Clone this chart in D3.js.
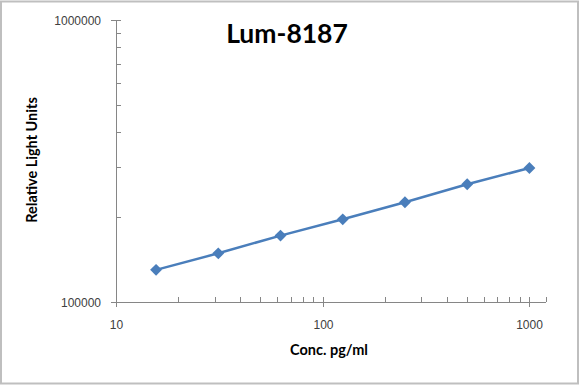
<!DOCTYPE html>
<html><head><meta charset="utf-8">
<script src="https://cdn.jsdelivr.net/npm/d3@7"></script>
<style>body{margin:0;background:#fff}svg{display:block}</style>
</head><body>
<svg id="c" width="580" height="386"></svg>
<script>
const title = "Lum-8187";
const xLabel = "Conc. pg/ml";
const yLabel = "Relative Light Units";
const conc = [15.625, 31.25, 62.5, 125, 250, 500, 1000];
const rlu = [130000, 148800, 172000, 196400, 225700, 261500, 298700];
const xTicks = [10, 100, 1000];
const yTicks = [100000, 1000000];

const svg = d3.select("#c");
svg.append("rect").attr("x",1).attr("y",1.5).attr("width",577).attr("height",382)
  .attr("fill","#fff").attr("stroke","#bfbfbf").attr("stroke-width",2);

const x = d3.scaleLog().domain([10, 1203]).range([116, 546]);
const y = d3.scaleLog().domain([100000, 1000000]).range([302, 20]);
const axisCol = "#868686";
const g = svg.append("g");

g.append("line").attr("x1",116.5).attr("x2",116.5).attr("y1",20).attr("y2",302).attr("stroke",axisCol).attr("stroke-width",1);
g.append("line").attr("x1",116).attr("x2",546).attr("y1",302.5).attr("y2",302.5).attr("stroke",axisCol).attr("stroke-width",1);

const yMinor = [];
for (let m=2;m<=9;m++) yMinor.push(m*100000);
yMinor.forEach(v=>{
  const yy = Math.round(y(v))+0.5;
  g.append("line").attr("x1",116).attr("x2",121).attr("y1",yy).attr("y2",yy).attr("stroke",axisCol);
});
yTicks.forEach(v=>{
  const yy = Math.round(y(v))+0.5;
  g.append("line").attr("x1",111).attr("x2",121).attr("y1",yy).attr("y2",yy).attr("stroke",axisCol);
  g.append("text").attr("x",101).attr("y",yy).attr("dy","0.35em").attr("text-anchor","end")
   .attr("font-family","Liberation Sans, Arial, sans-serif").attr("font-size",12).attr("fill","#404040").text(v);
});
const xMinor = [];
[10,100].forEach(d=>{for(let m=2;m<=9;m++) xMinor.push(m*d);});
xMinor.push(1203);
xMinor.forEach(v=>{
  const xx = Math.round(x(v))+0.5;
  g.append("line").attr("x1",xx).attr("x2",xx).attr("y1",297).attr("y2",302).attr("stroke",axisCol);
});
xTicks.forEach(v=>{
  const xx = Math.round(x(v))+0.5;
  g.append("line").attr("x1",xx).attr("x2",xx).attr("y1",297).attr("y2",307).attr("stroke",axisCol);
  g.append("text").attr("x",xx).attr("y",325).attr("dy","0.35em").attr("text-anchor","middle")
   .attr("font-family","Liberation Sans, Arial, sans-serif").attr("font-size",12).attr("fill","#404040").text(v);
});

const pts = conc.map((c,i)=>[c, rlu[i]]);
svg.append("path").datum(pts)
  .attr("d", d3.line().x(d=>x(d[0])).y(d=>y(d[1])))
  .attr("fill","none").attr("stroke","#4a7ebb").attr("stroke-width",2.5);
svg.selectAll("path.m").data(pts).enter().append("path").attr("class","m")
  .attr("d", d3.symbol().type(d3.symbolDiamond2).size(90))
  .attr("transform", d=>`translate(${x(d[0])},${y(d[1])})`)
  .attr("fill","#4a7ebb");

svg.append("text").attr("x",287).attr("y",43).attr("text-anchor","middle")
  .attr("font-family","Lato, Open Sans, sans-serif").attr("font-weight","bold").attr("font-size",26.5).attr("fill","#000").text(title);
svg.append("text").attr("x",329).attr("y",355).attr("text-anchor","middle")
  .attr("font-family","Lato, Open Sans, sans-serif").attr("font-weight","bold").attr("font-size",14.5).attr("fill","#000").text(xLabel);
svg.append("text").attr("transform","translate(32,160) rotate(-90)").attr("text-anchor","middle").attr("dy","0.35em")
  .attr("font-family","Lato, Open Sans, sans-serif").attr("font-weight","bold").attr("font-size",14.5).attr("fill","#000").text(yLabel);
</script>
</body></html>
